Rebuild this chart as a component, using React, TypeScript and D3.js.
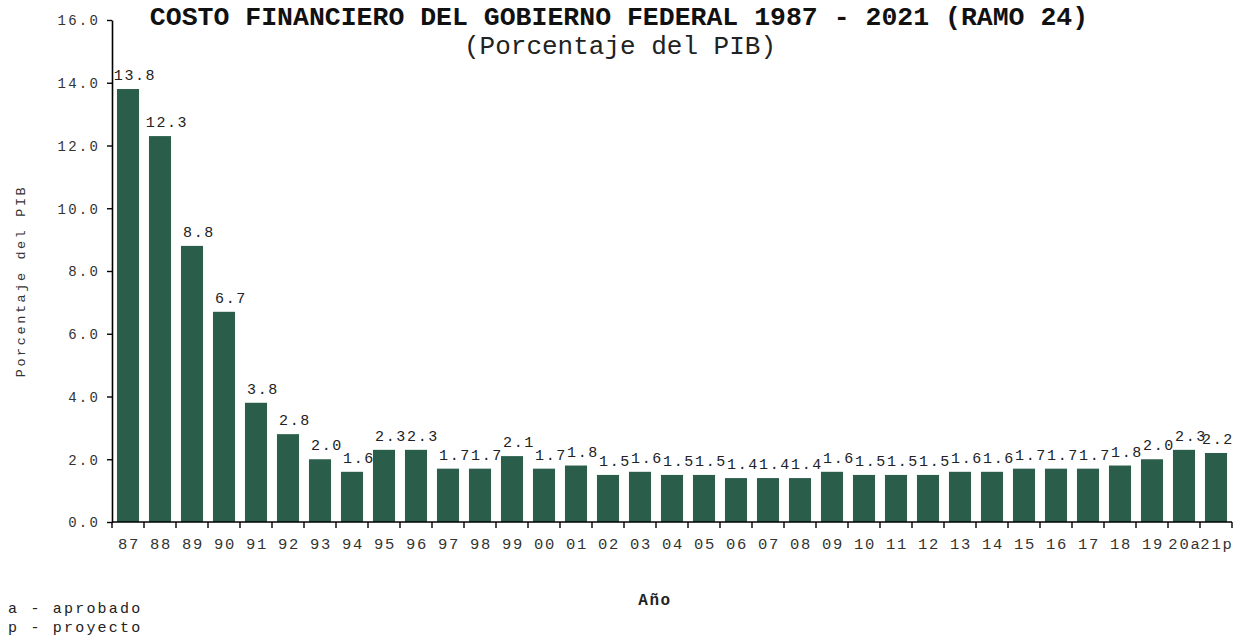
import React, { useEffect, useRef } from 'react'
import * as d3 from 'd3'

// Años (a = aprobado, p = proyecto) y costo financiero en % del PIB
const years = ['87', '88', '89', '90', '91', '92', '93', '94', '95', '96', '97', '98', '99', '00', '01', '02', '03', '04', '05', '06', '07', '08', '09', '10', '11', '12', '13', '14', '15', '16', '17', '18', '19', '20a', '21p']
const values = [13.8, 12.3, 8.8, 6.7, 3.8, 2.8, 2.0, 1.6, 2.3, 2.3, 1.7, 1.7, 2.1, 1.7, 1.8, 1.5, 1.6, 1.5, 1.5, 1.4, 1.4, 1.4, 1.6, 1.5, 1.5, 1.5, 1.6, 1.6, 1.7, 1.7, 1.7, 1.8, 2.0, 2.3, 2.2]
const yTicks = [0, 2, 4, 6, 8, 10, 12, 14, 16]
const notes = ['a - aprobado', 'p - proyecto']

const W = 1236
const H = 641
const BAR = '#2a5e4b'
const MONO = '"Liberation Mono", "Courier New", monospace'

export default function App() {
  const ref = useRef<SVGSVGElement | null>(null)

  useEffect(() => {
    if (!ref.current) return
    const svg = d3.select(ref.current)
    svg.selectAll('*').remove()

    const left = 112, right = 1232, top = 20, bottom = 522

    const x = d3.scaleBand<string>().domain(years).range([left, right]).paddingInner(0.31).paddingOuter(0.155)
    const step = x.step()
    const y = d3.scaleLinear().domain([0, 16]).range([bottom, top])

    // bars
    svg.append('g')
      .selectAll('rect')
      .data(values)
      .join('rect')
      .attr('x', (_, i) => x(years[i])!)
      .attr('y', d => y(d))
      .attr('width', x.bandwidth())
      .attr('height', d => y(0) - y(d))
      .attr('fill', BAR)

    // value labels, a bit up and to the right of each bar (kept inside the page)
    svg.append('g')
      .selectAll('text')
      .data(values)
      .join('text')
      .attr('x', (_, i) => Math.min(x(years[i])! + x.bandwidth() / 2 + 7, W - 18))
      .attr('y', d => y(d) - 9)
      .attr('text-anchor', 'middle')
      .attr('font-family', MONO)
      .attr('font-size', 15)
      .attr('letter-spacing', 1.6)
      .attr('fill', '#222')
      .text(d => d3.format('.1f')(d))

    // y axis
    const ay = svg.append('g').attr('transform', `translate(${left},0)`)
      .call(d3.axisLeft(y).tickValues(yTicks).tickFormat(d3.format('.1f')).tickSize(5).tickSizeOuter(0))
    ay.select('.domain').attr('stroke', '#000').attr('stroke-width', 1.6)
    ay.selectAll('.tick line').attr('stroke', '#000').attr('stroke-width', 1.4)
    ay.selectAll('.tick text')
      .attr('font-family', MONO)
      .attr('font-size', 14)
      .attr('letter-spacing', 2.2)
      .attr('fill', '#333')
      .attr('x', -12)
      .attr('dy', '0.35em')

    // x axis: line plus ticks on category boundaries
    const ax = svg.append('g')
    ax.append('line')
      .attr('x1', left).attr('x2', right)
      .attr('y1', bottom).attr('y2', bottom)
      .attr('stroke', '#000').attr('stroke-width', 1.6)
    ax.selectAll('line.tk')
      .data(d3.range(years.length + 1))
      .join('line')
      .attr('class', 'tk')
      .attr('x1', i => left + i * step).attr('x2', i => left + i * step)
      .attr('y1', bottom).attr('y2', bottom + 6)
      .attr('stroke', '#000').attr('stroke-width', 1.4)
    ax.selectAll('text')
      .data(years)
      .join('text')
      .attr('x', d => x(d)! + x.bandwidth() / 2 + 1)
      .attr('y', 549)
      .attr('text-anchor', 'middle')
      .attr('font-family', MONO)
      .attr('font-size', 15.5)
      .attr('letter-spacing', 1.8)
      .attr('fill', '#333')
      .text(d => d)

    // titles
    svg.append('text')
      .attr('x', 619).attr('y', 25)
      .attr('text-anchor', 'middle')
      .attr('font-family', MONO)
      .attr('font-weight', 'bold')
      .attr('font-size', 26.5)
      .attr('fill', '#111')
      .text('COSTO FINANCIERO DEL GOBIERNO FEDERAL 1987 - 2021 (RAMO 24)')
    svg.append('text')
      .attr('x', 620).attr('y', 54)
      .attr('text-anchor', 'middle')
      .attr('font-family', MONO)
      .attr('font-size', 26)
      .attr('fill', '#222')
      .text('(Porcentaje del PIB)')

    // axis titles
    svg.append('text')
      .attr('transform', 'translate(25,281) rotate(-90)')
      .attr('text-anchor', 'middle')
      .attr('font-family', MONO)
      .attr('font-size', 13.5)
      .attr('letter-spacing', 2.6)
      .attr('fill', '#333')
      .text('Porcentaje del PIB')
    svg.append('text')
      .attr('x', 655).attr('y', 605)
      .attr('text-anchor', 'middle')
      .attr('font-family', MONO)
      .attr('font-weight', 'bold')
      .attr('font-size', 16)
      .attr('letter-spacing', 1.5)
      .attr('fill', '#222')
      .text('Año')

    // notes
    svg.append('g')
      .selectAll('text')
      .data(notes)
      .join('text')
      .attr('x', 8)
      .attr('y', (_, i) => 613 + i * 19)
      .attr('font-family', MONO)
      .attr('font-size', 15)
      .attr('letter-spacing', 2.2)
      .attr('fill', '#222')
      .text(d => d)
  }, [])

  return (
    <svg ref={ref} width={W} height={H} style={{ position: 'absolute', left: 0, top: 0, background: '#fff' }} />
  )
}
